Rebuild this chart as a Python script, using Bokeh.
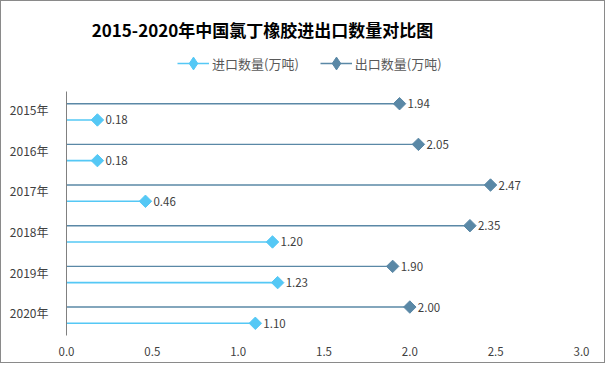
import math
from bokeh.plotting import figure
from bokeh.models import (ColumnDataSource, FixedTicker, NumeralTickFormatter, Label,
                          Legend, LegendItem, Range1d)
from bokeh.core.properties import value
from bokeh.embed import file_html
from bokeh.resources import INLINE

years = ["2015年", "2016年", "2017年", "2018年", "2019年", "2020年"]
imports = [0.18, 0.18, 0.46, 1.20, 1.23, 1.10]
exports = [1.94, 2.05, 2.47, 2.35, 1.90, 2.00]
x_ticks = [0.0, 0.5, 1.0, 1.5, 2.0, 2.5, 3.0]
series_names = ["进口数量(万吨)", "出口数量(万吨)"]
title_text = "2015-2020年中国氯丁橡胶进出口数量对比图"

IMP_C = "#55C8F5"
EXP_C = "#5A88A6"
FONT = "Noto Sans CJK SC"

n = len(years)
pos = [i + 0.5 for i in range(n)]
src = ColumnDataSource(dict(
    y_exp=[p - 0.2 for p in pos],
    y_imp=[p + 0.2 for p in pos],
    zero=[0.0] * n,
    imp=imports, exp=exports,
    imp_lbl=[f"{v:.2f}" for v in imports],
    exp_lbl=[f"{v:.2f}" for v in exports],
))
nan_src = ColumnDataSource(dict(x=[float("nan")], y=[float("nan")]))

W, H = 605, 363
FRAME_L, FRAME_R = 65, 580
TOP_PX = 90          # space above the category area, inside the frame
CAT_PX = 244         # height of the category area
FRAME_B = TOP_PX + CAT_PX
top_extra = n * TOP_PX / CAT_PX

p = figure(width=W, height=H, output_backend="svg", toolbar_location=None,
           x_range=Range1d(0, 3), y_range=Range1d(n, -top_extra),
           min_border_left=FRAME_L, min_border_right=W - FRAME_R,
           min_border_top=0, min_border_bottom=H - FRAME_B)
p.outline_line_color = None
p.xgrid.visible = False
p.ygrid.visible = False
p.styles = {"border": "1px solid #8a8a8a", "box-sizing": "border-box"}

r_exp_l = p.segment(x0="zero", y0="y_exp", x1="exp", y1="y_exp", source=src,
                    line_color=EXP_C, line_width=1.4)
r_imp_l = p.segment(x0="zero", y0="y_imp", x1="imp", y1="y_imp", source=src,
                    line_color=IMP_C, line_width=1.6)
p.scatter(x="exp", y="y_exp", source=src, marker="square", angle=math.pi / 4,
          size=8.8, fill_color=EXP_C, line_color=EXP_C)
p.scatter(x="imp", y="y_imp", source=src, marker="square", angle=math.pi / 4,
          size=8.8, fill_color=IMP_C, line_color=IMP_C)
p.text(x="exp", y="y_exp", text="exp_lbl", source=src, x_offset=8,
       text_baseline="middle", text_font=value(FONT), text_font_size="11.5px", text_color="#404040")
p.text(x="imp", y="y_imp", text="imp_lbl", source=src, x_offset=8,
       text_baseline="middle", text_font=value(FONT), text_font_size="11.5px", text_color="#404040")

# legend-only marker renderers (diamond shape, no visible data)
leg_imp_m = p.scatter(x="x", y="y", source=nan_src, marker="diamond", size=15,
                      fill_color=IMP_C, line_color=IMP_C)
leg_exp_m = p.scatter(x="x", y="y", source=nan_src, marker="diamond", size=15,
                      fill_color=EXP_C, line_color=EXP_C)

# axes
p.xaxis.ticker = FixedTicker(ticks=x_ticks)
p.xaxis.formatter = NumeralTickFormatter(format="0.0")
p.xaxis.axis_line_color = None
p.xaxis.major_tick_line_color = None
p.xaxis.minor_tick_line_color = None
p.xaxis.major_label_standoff = 5
p.xaxis.major_label_text_font = FONT
p.xaxis.major_label_text_font_size = "11.5px"
p.xaxis.major_label_text_color = "#404040"

tick_pos = [pp - 0.06 for pp in pos]
p.yaxis.ticker = FixedTicker(ticks=tick_pos)
p.yaxis.bounds = (0, n)
p.yaxis.major_label_overrides = {tp: y for tp, y in zip(tick_pos, years)}
p.yaxis.axis_line_color = "#808080"
p.yaxis.major_tick_line_color = None
p.yaxis.minor_tick_line_color = None
p.yaxis.major_label_standoff = 12
p.yaxis.major_label_text_font = FONT
p.yaxis.major_label_text_font_size = "12px"
p.yaxis.major_label_text_color = "#404040"

# title (screen units relative to the frame's bottom-left)
p.add_layout(Label(x=261 - FRAME_L, y=FRAME_B - 28, x_units="screen", y_units="screen",
                   text=title_text,
                   text_font=FONT, text_font_size="17px", text_font_style="bold",
                   text_align="center", text_baseline="middle", text_color="#000000"))

GLYPH = 32
legend = Legend(items=[LegendItem(label=series_names[0], renderers=[r_imp_l, leg_imp_m]),
                       LegendItem(label=series_names[1], renderers=[r_exp_l, leg_exp_m])],
                location=(176 - FRAME_L, FRAME_B - 62 - GLYPH // 2), orientation="horizontal",
                glyph_width=GLYPH, glyph_height=GLYPH, label_height=GLYPH, label_standoff=3,
                spacing=21, padding=0, margin=0,
                label_text_font=FONT, label_text_font_size="13px", label_text_color="#595959",
                border_line_color=None, background_fill_alpha=0)
p.add_layout(legend, "center")

open("out.html", "w").write(file_html(p, INLINE))
